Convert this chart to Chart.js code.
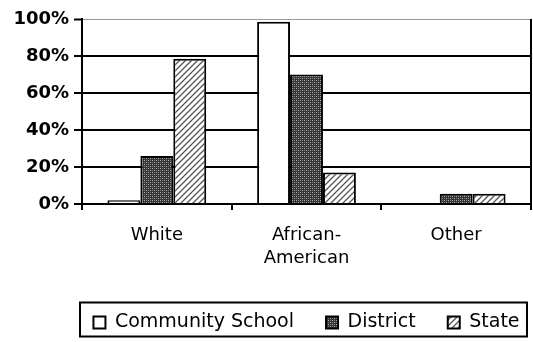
<!DOCTYPE html>
<html><head><meta charset="utf-8">
<script src="https://cdn.jsdelivr.net/npm/chart.js@4/dist/chart.umd.min.js"></script>
<style>html,body{margin:0;padding:0;background:#fff;}#wrap{width:533px;height:342px;position:relative;}</style>
</head><body><div id="wrap"><canvas id="c" width="533" height="342"></canvas></div>
<script>
const categories = ['White', ['African-', 'American'], 'Other'];
const seriesNames = ['Community School', 'District', 'State'];
const communitySchool = [2, 98.5, 0];
const district = [26, 70, 5.5];
const state = [78.5, 17, 5.5];
const yTicks = [0, 20, 40, 60, 80, 100];

function makePattern(kind) {
  const c = document.createElement('canvas');
  const g = c.getContext('2d');
  if (kind === 'stipple') {
    c.width = c.height = 4;
    g.fillStyle = '#353535'; g.fillRect(0, 0, 4, 4);
    g.fillStyle = '#b0b0b0'; g.fillRect(0, 0, 1, 1); g.fillRect(2, 2, 1, 1);
    g.fillStyle = '#777'; g.fillRect(2, 0, 1, 1); g.fillRect(0, 2, 1, 1);
  } else {
    c.width = c.height = 6;
    g.fillStyle = '#ffffff'; g.fillRect(0, 0, 6, 6);
    g.strokeStyle = '#555'; g.lineWidth = 1.3;
    g.beginPath();
    g.moveTo(-1, 7); g.lineTo(7, -1);
    g.moveTo(-4, 4); g.lineTo(4, -4);
    g.moveTo(2, 10); g.lineTo(10, 2);
    g.stroke();
  }
  return g.createPattern(c, 'repeat');
}

const legendBox = {
  id: 'legendBox',
  afterLayout(chart) {
    chart.legend.left += 41;
    chart.legend.right += 41;
  },
  afterDraw(chart) {
    const ctx = chart.ctx, lg = chart.legend, ca = chart.chartArea;
    ctx.save();
    ctx.strokeStyle = '#000'; ctx.lineWidth = 2;
    ctx.beginPath(); ctx.moveTo(ca.right, ca.top); ctx.lineTo(ca.right, ca.bottom); ctx.stroke();
    const hb = lg.legendHitBoxes;
    const top = hb[0].top + hb[0].height / 2 - 20;
    ctx.strokeRect(80, top, 447, 34);
    ctx.restore();
  }
};

new Chart(document.getElementById('c'), {
  type: 'bar',
  data: {
    labels: categories,
    datasets: [
      { label: seriesNames[0], data: communitySchool, backgroundColor: '#ffffff', borderColor: '#000', borderWidth: 2 },
      { label: seriesNames[1], data: district, backgroundColor: makePattern('stipple'), borderColor: '#000', borderWidth: 2 },
      { label: seriesNames[2], data: state, backgroundColor: makePattern('hatch'), borderColor: '#000', borderWidth: 2 }
    ]
  },
  options: {
    responsive: false, animation: false,
    categoryPercentage: 0.66, barPercentage: 1,
    layout: { padding: { top: 19, right: 2, left: 0, bottom: 0 } },
    plugins: {
      legend: { position: 'bottom', labels: { font: { family: 'DejaVu Sans', size: 19 }, color: '#000', boxWidth: 12, boxHeight: 12, padding: 32 } },
      tooltip: { enabled: false }
    },
    scales: {
      x: {
        grid: { offset: true, drawOnChartArea: false, color: '#000', lineWidth: 2, tickLength: 6 },
        border: { color: '#000', width: 2 },
        ticks: { font: { family: 'DejaVu Sans', size: 18, lineHeight: 1.28 }, color: '#000', padding: 14, maxRotation: 0 },
        afterFit(s) { s.height = 77; }
      },
      y: {
        min: 0, max: 100,
        afterBuildTicks(s) { s.ticks = yTicks.map(v => ({ value: v })); },
        ticks: { callback: v => v + '%', font: { family: 'DejaVu Sans', size: 18, weight: 'bold' }, color: '#000', padding: 5 },
        grid: {
          color: c => (c.tick && c.tick.value === 100) ? '#999' : '#000',
          lineWidth: c => (c.tick && c.tick.value === 100) ? 1 : 2,
          tickLength: 8, tickColor: '#000', tickWidth: 2
        },
        border: { color: '#000', width: 2 },
        afterFit(s) { s.width = 82; }
      }
    }
  },
  plugins: [legendBox]
});
</script></body></html>
